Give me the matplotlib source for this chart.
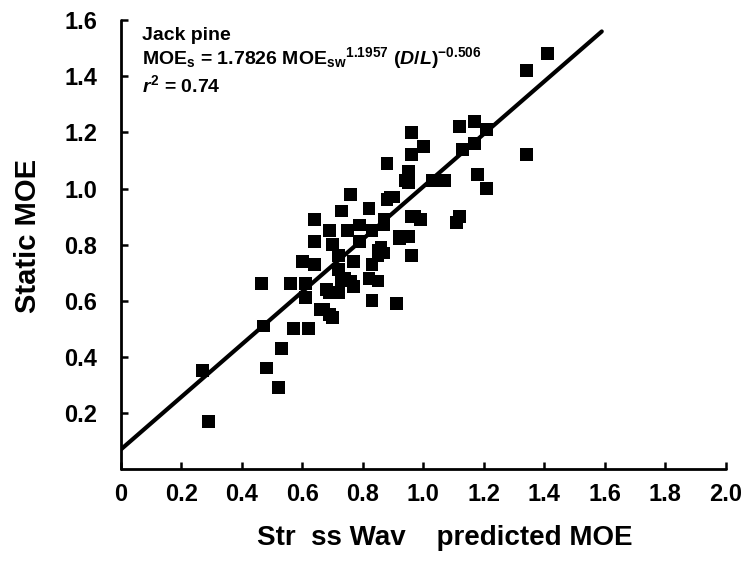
import numpy as np
import matplotlib
matplotlib.use("Agg")
import matplotlib.pyplot as plt

plt.rcParams['font.family'] = ['Liberation Sans', 'DejaVu Sans']
plt.rcParams['font.weight'] = 'bold'
plt.rcParams['mathtext.fontset'] = 'custom'
plt.rcParams['mathtext.rm'] = 'Liberation Sans:bold'
plt.rcParams['mathtext.bf'] = 'Liberation Sans:bold'
plt.rcParams['mathtext.it'] = 'Liberation Sans:italic:bold'

# stress wave predicted MOE vs static MOE
x_pred = [0.27, 0.29, 0.47, 0.57, 0.62, 0.53, 0.48, 0.52,
          0.465, 0.56, 0.61, 0.60, 0.64, 0.61, 0.67, 0.70, 0.69, 0.73,
          0.83, 0.91, 0.96, 0.76, 0.85, 0.87,
          0.76, 0.64, 0.64, 0.73, 0.69, 0.82, 0.89, 0.96, 0.92, 0.74,
          0.72, 0.77, 0.83, 0.79, 0.83, 0.85, 0.68, 0.72, 0.77, 0.82,
          0.85, 0.66, 0.69, 0.95, 0.75, 0.70, 0.72, 0.79, 0.87,
          0.96, 1.00, 0.96, 0.88, 0.95, 0.94, 1.12, 1.17, 1.21, 1.17,
          1.13, 1.34, 1.03, 1.07, 1.18, 1.21, 1.12, 1.11, 0.90, 0.88,
          0.97, 0.99, 0.92, 0.95, 0.87, 0.86,
          1.41, 1.34]
y_static = [0.35, 0.17, 0.51, 0.50, 0.50, 0.43, 0.36, 0.29,
            0.66, 0.66, 0.66, 0.74, 0.73, 0.61, 0.57, 0.54, 0.63, 0.67,
            0.60, 0.59, 0.76, 0.67, 0.76, 0.77,
            0.98, 0.89, 0.81, 0.92, 0.85, 0.93, 0.97, 0.90, 0.82, 0.68,
            0.76, 0.74, 0.73, 0.81, 0.85, 0.78, 0.64, 0.63, 0.65, 0.68,
            0.67, 0.57, 0.55, 1.02, 0.85, 0.80, 0.71, 0.87, 0.89,
            1.20, 1.15, 1.12, 1.09, 1.06, 1.03, 1.22, 1.24, 1.21, 1.16,
            1.14, 1.12, 1.03, 1.03, 1.05, 1.00, 0.90, 0.88, 0.97, 0.96,
            0.90, 0.89, 0.83, 0.83, 0.87, 0.79,
            1.48, 1.42]

# fitted line end points
fit_x = [0.0, 1.59]
fit_y = [0.07, 1.56]

xticks = [0, 0.2, 0.4, 0.6, 0.8, 1.0, 1.2, 1.4, 1.6, 1.8, 2.0]
xticklabels = ['0', '0.2', '0.4', '0.6', '0.8', '1.0', '1.2', '1.4', '1.6', '1.8', '2.0']
yticks = [0.2, 0.4, 0.6, 0.8, 1.0, 1.2, 1.4, 1.6]
yticklabels = ['0.2', '0.4', '0.6', '0.8', '1.0', '1.2', '1.4', '1.6']

fig = plt.figure(figsize=(7.54, 5.62), dpi=100)
ax = fig.add_axes([0.1605, 0.1655, 0.802, 0.7985])

ax.plot(fit_x, fit_y, color='black', lw=3, solid_capstyle='round', zorder=2)
ax.scatter(x_pred, y_static, marker='s', s=85, color='black', edgecolors='none', zorder=3)

ax.set_xlim(0, 2.0)
ax.set_ylim(0, 1.6)
for side in ['top', 'right']:
    ax.spines[side].set_visible(False)
for side in ['left', 'bottom']:
    ax.spines[side].set_linewidth(2)
    ax.spines[side].set_capstyle('round')

ax.set_xticks(xticks)
ax.set_xticklabels(xticklabels)
ax.set_yticks(yticks)
ax.set_yticklabels(yticklabels)
ax.tick_params(axis='both', direction='in', length=5, width=1.8, labelsize=17)
ax.tick_params(axis='y', pad=17)
ax.tick_params(axis='x', pad=10)

ax.set_xlabel('Str  ss Wav    predicted MOE', fontsize=20, fontweight='bold')
ax.set_ylabel('Static MOE', fontsize=21, fontweight='bold')
ax.xaxis.set_label_coords(0.535, -0.125)
ax.yaxis.set_label_coords(-0.13, 0.52)

ax.text(0.034, 0.966, 'Jack pine', transform=ax.transAxes, fontsize=14,
        fontweight='bold', va='center', ha='left')
ax.text(0.034, 0.915,
        r'MOE$_{\mathrm{s}}$ = 1.7826 MOE$_{\mathrm{sw}}$$^{1.1957}$ $(\mathit{D/L})^{-0.506}$',
        transform=ax.transAxes, fontsize=14, fontweight='bold', va='center', ha='left')
ax.text(0.034, 0.855, r'$\mathit{r}^{2}$ = 0.74', transform=ax.transAxes, fontsize=14,
        fontweight='bold', va='center', ha='left')

fig.savefig('out.png', dpi=100)
